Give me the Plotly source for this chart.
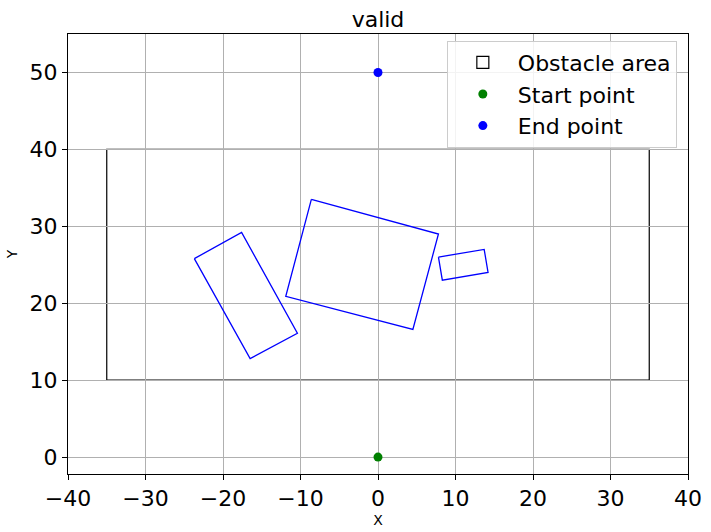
import plotly.graph_objects as go

# Obstacle area (rectangle corners)
area_x = [-35, 35]
area_y = [10, 40]

# Obstacles (polygon vertices, closed)
obs1_x = [-23.7, -17.6, -10.4, -16.5, -23.7]
obs1_y = [25.8, 29.2, 16.1, 12.8, 25.8]
obs2_x = [-8.6, 7.8, 4.5, -11.9, -8.6]
obs2_y = [33.5, 29.0, 16.6, 20.9, 33.5]
obs3_x = [7.8, 13.7, 14.2, 8.3, 7.8]
obs3_y = [26.0, 27.0, 24.0, 23.0, 26.0]

start_x, start_y = [0], [0]
end_x, end_y = [0], [50]

x_ticks = [-40, -30, -20, -10, 0, 10, 20, 30, 40]
y_ticks = [0, 10, 20, 30, 40, 50]

FONT = "DejaVu Sans"

fig = go.Figure()

# Obstacle area drawn as a shape below the grid (grid shows over top/bottom edges)
fig.add_shape(type="rect", x0=area_x[0], x1=area_x[1], y0=area_y[0], y1=area_y[1],
              xref="x", yref="y", layer="below",
              line=dict(color="black", width=1.2), fillcolor="rgba(0,0,0,0)",
              showlegend=True, name="Obstacle area", legendrank=1)

for ox, oy in [(obs1_x, obs1_y), (obs2_x, obs2_y), (obs3_x, obs3_y)]:
    fig.add_trace(go.Scatter(x=ox, y=oy, mode="lines", showlegend=False,
                             line=dict(color="blue", width=1.3), hoverinfo="skip"))

fig.add_trace(go.Scatter(x=start_x, y=start_y, mode="markers", name="Start point",
                         marker=dict(color="green", size=9), legendrank=2))
fig.add_trace(go.Scatter(x=end_x, y=end_y, mode="markers", name="End point",
                         marker=dict(color="blue", size=9), legendrank=3))

axis_common = dict(showline=True, linecolor="black", linewidth=1, mirror=True,
                   ticks="outside", ticklen=5, tickcolor="black", tickwidth=1,
                   showgrid=True, gridcolor="#b0b0b0", gridwidth=1, zeroline=False,
                   automargin=False,
                   tickfont=dict(family=FONT, size=22, color="black"))

fig.update_layout(
    width=711, height=532,
    margin=dict(l=68, r=23, t=34, b=58),
    paper_bgcolor="white", plot_bgcolor="white",
    title=dict(text="valid", x=(68 + 310) / 711, xanchor="center", y=1 - 19 / 532, yanchor="middle",
               font=dict(family=FONT, size=22, color="black")),
    xaxis=dict(range=[-40, 40], tickvals=x_ticks, ticktext=[str(t).replace("-", "−") for t in x_ticks],
               title=dict(text="X", font=dict(family=FONT, size=14, color="black"), standoff=4),
               **axis_common),
    yaxis=dict(range=[-2.2, 55], tickvals=y_ticks,
               title=dict(text="Y", font=dict(family=FONT, size=14, color="black"), standoff=8),
               **axis_common),
    legend=dict(x=0.982, y=0.985, xanchor="right", yanchor="top", traceorder="normal",
                bgcolor="rgba(255,255,255,0.85)", bordercolor="#cccccc", borderwidth=1,
                font=dict(family=FONT, size=22, color="black"), itemwidth=60,
                tracegroupgap=0),
    showlegend=True,
)

fig.write_html("out.html", config={"displayModeBar": False},
               post_script="document.body.style.margin='0';")
